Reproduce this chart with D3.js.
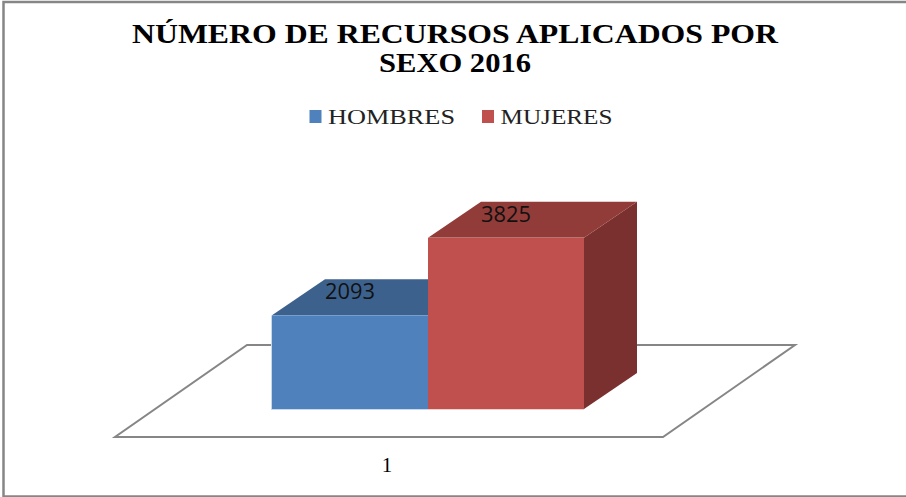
<!DOCTYPE html>
<html>
<head>
<meta charset="utf-8">
<script src="https://cdn.jsdelivr.net/npm/d3@7"></script>
<style>
    html, body { margin: 0; padding: 0; background: #fff; }
    svg { display: block; }
</style>
</head>
<body>
<div id="chart"></div>
<script>
// Data
const categories = ['1'];
const seriesNames = ['HOMBRES', 'MUJERES'];
const seriesValues = [2093, 3825];
const seriesColors = ['#4f81bd', '#c0504d'];
const topColors = ['#3d618d', '#923c39'];
const sideColors = ['#2f4d70', '#7a302e'];
const haloColors = ['#c9d9ec', '#f0d0cf'];
const titleLines = ['NÚMERO DE RECURSOS APLICADOS POR', 'SEXO 2016'];

const width = 906, height = 497;
// 3D offset of the back face
const depthX = 53, depthY = -36;

const svg = d3.select('#chart').append('svg')
    .attr('width', width)
    .attr('height', height);

// Frame, the right side falls outside the picture
svg.append('path')
    .attr('d', `M${width},2H3.5V496.5H${width}`)
    .attr('fill', 'none')
    .attr('stroke', '#868686')
    .attr('stroke-width', 2.5);

// Scales
const x = d3.scaleBand().domain(seriesNames).range([272, 584]);
const y = d3.scaleLinear().domain([0, 4000]).range([409, 230]);
const floorX = d3.scaleBand().domain(categories).range([115, 663]);

// Floor of the 3D plot
const fx0 = floorX('1'), fx1 = fx0 + floorX.bandwidth();
const floorY = 437, floorDx = 132, floorDy = -92;
svg.append('path')
    .attr('d', `M${fx0},${floorY}L${fx1},${floorY}L${fx1 + floorDx},${floorY + floorDy}L${fx0 + floorDx},${floorY + floorDy}Z`)
    .attr('fill', '#fff')
    .attr('stroke', '#868686')
    .attr('stroke-width', 2);

// Bars, drawn back to front
const poly = pts => pts.map(p => p.join(',')).join(' ');
seriesNames.forEach((name, i) => {
    const g = svg.append('g').attr('class', 'bar');
    const x0 = x(name), x1 = x0 + x.bandwidth();
    const y0 = y(0), y1 = y(seriesValues[i]);
    g.append('polygon')
        .attr('points', poly([[x1, y0], [x1, y1], [x1 + depthX, y1 + depthY], [x1 + depthX, y0 + depthY]]))
        .attr('fill', sideColors[i]);
    g.append('polygon')
        .attr('points', poly([[x0, y1], [x1, y1], [x1 + depthX, y1 + depthY], [x0 + depthX, y1 + depthY]]))
        .attr('fill', topColors[i]);
    // pale edge under the front face, only the first bar has a free left side
    const haloLeft = i === 0 ? x0 - 1 : x0;
    g.append('rect')
        .attr('x', haloLeft).attr('y', y1)
        .attr('width', x1 - haloLeft).attr('height', y0 - y1 + 1)
        .attr('fill', haloColors[i]);
    g.append('rect')
        .attr('x', x0).attr('y', y1)
        .attr('width', x1 - x0).attr('height', y0 - y1)
        .attr('fill', seriesColors[i]);
    g.append('text')
        .attr('x', x0 + 78)
        .attr('y', y1 - 16)
        .attr('text-anchor', 'middle')
        .attr('font-family', 'Open Sans, sans-serif')
        .attr('font-size', 21)
        .attr('textLength', 50)
        .attr('lengthAdjust', 'spacingAndGlyphs')
        .attr('fill', '#111')
        .text(seriesValues[i]);
});

// Category label
svg.append('text')
    .attr('x', 387).attr('y', 472)
    .attr('text-anchor', 'middle')
    .attr('font-family', 'Liberation Serif, serif')
    .attr('font-size', 21)
    .text(categories[0]);

// Title
const titleWidths = [646, 152];
titleLines.forEach((line, i) => {
    svg.append('text')
        .attr('x', 455).attr('y', 43 + i * 29)
        .attr('text-anchor', 'middle')
        .attr('font-family', 'Liberation Serif, serif')
        .attr('font-weight', 'bold')
        .attr('font-size', 27)
        .attr('textLength', titleWidths[i])
        .attr('lengthAdjust', 'spacingAndGlyphs')
        .attr('fill', '#000')
        .text(line);
});

// Legend
const legendX = [309.5, 482];
const legendWidths = [127, 112];
seriesNames.forEach((name, i) => {
    svg.append('rect')
        .attr('x', legendX[i]).attr('y', 110)
        .attr('width', 12).attr('height', 13)
        .attr('fill', seriesColors[i]);
    svg.append('text')
        .attr('x', legendX[i] + 18.5).attr('y', 124)
        .attr('font-family', 'Liberation Serif, serif')
        .attr('font-size', 22)
        .attr('textLength', legendWidths[i])
        .attr('lengthAdjust', 'spacingAndGlyphs')
        .attr('fill', '#222')
        .text(name);
});
</script>
</body>
</html>
